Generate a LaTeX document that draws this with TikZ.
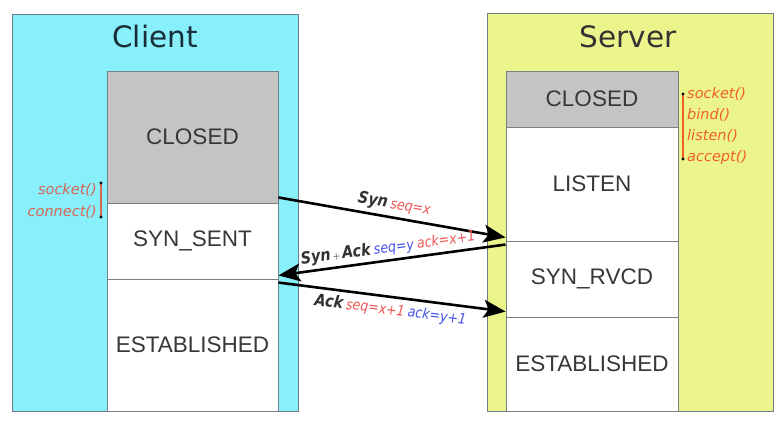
\documentclass[tikz,border=0pt]{standalone}
\usepackage{fontspec}
\setmainfont{DejaVu Sans}
\newfontfamily\statefont{Liberation Sans}
\newfontfamily\condfont[FakeStretch=0.87]{DejaVu Sans}
\usetikzlibrary{arrows.meta}
\definecolor{cyanpanel}{RGB}{136,240,250}
\definecolor{yellowpanel}{RGB}{236,245,140}
\definecolor{closedgray}{RGB}{196,196,196}
\definecolor{panelline}{RGB}{110,125,135}
\definecolor{boxline}{RGB}{120,128,132}
\definecolor{stategray}{RGB}{55,55,55}
\definecolor{titlecol}{RGB}{25,45,55}
\definecolor{lblred}{RGB}{240,85,85}
\definecolor{lblblue}{RGB}{70,80,235}
\definecolor{callcol}{RGB}{240,95,40}
\definecolor{callleft}{RGB}{215,100,85}
\definecolor{msgtext}{RGB}{50,50,50}
\definecolor{plusgray}{RGB}{120,120,120}
\newcommand\msgword{\condfont\fontsize{16.5}{16.5}\selectfont\bfseries\itshape\color{msgtext}}
\newcommand\seqtxt{\condfont\fontsize{14.5}{14.5}\selectfont\itshape}
\begin{document}
\begin{tikzpicture}[x=1pt,y=-1pt,
  panel/.style={draw=panelline, line width=0.9pt, inner sep=0pt, minimum width=286pt},
  paneltitle/.style={inner sep=0pt, text=titlecol, font=\fontsize{29.5}{29.5}\selectfont},
  statebox/.style={draw=boxline, line width=0.9pt, inner sep=0pt, fill=white,
    text=stategray, font=\statefont\fontsize{22.5}{22.5}\selectfont},
  cstate/.style={statebox, minimum width=171pt},
  sstate/.style={statebox, minimum width=172pt},
  calls/.style={inner sep=0pt, font=\fontsize{14.5}{21.3}\selectfont\itshape},
  callbar/.style={line width=1.4pt},
  msg/.style={draw=black, line width=2.6pt, -{Stealth[length=22pt,width=18pt,inset=5pt]}},
  msglabel/.style={sloped, inner sep=0pt}
]
\useasboundingbox (0,0) rectangle (782,423);
\fill[white] (0,0) rectangle (782,423);

% panels
\node[panel, fill=cyanpanel, minimum height=397pt] (cpanel) at (155,212.5) {};
\node[panel, fill=yellowpanel, minimum height=398pt] (spanel) at (630,212) {};
\node[paneltitle] (ctitle) at (155,37) {Client};
\node[paneltitle, text=black!80] (stitle) at (628,37) {Server};

% client states
\node[cstate, fill=closedgray, minimum height=132pt] (cclosed) at (192.5,137) {CLOSED};
\node[cstate, minimum height=76pt] (csynsent) at (192.5,241) {SYN\_SENT};
\node[cstate, minimum height=132pt] (cest) at (192.5,345) {ESTABLISHED};

% server states
\node[sstate, fill=closedgray, minimum height=56pt] (sclosed) at (592,99) {CLOSED};
\node[sstate, minimum height=114pt] (slisten) at (592,184) {LISTEN};
\node[sstate, minimum height=76pt] (ssynrvcd) at (592,279) {SYN\_RVCD};
\node[sstate, minimum height=94pt] (sest) at (592,364) {ESTABLISHED};

% system calls
\node[calls, anchor=east, align=right, text=callleft] (ccalls) at (97,201) {socket()\\connect()};
\coordinate (cb1) at (101,183);
\coordinate (cb2) at (101,217);
\draw[callbar, draw=callleft] (cb1) -- (cb2);
\fill[black] (cb1) circle (1.6) (cb2) circle (1.6);

\node[calls, anchor=west, align=left, text=callcol] (scalls) at (687,126) {socket()\\bind()\\listen()\\accept()};
\coordinate (sb1) at (683,94);
\coordinate (sb2) at (683,159);
\draw[callbar, draw=callcol] (sb1) -- (sb2);
\fill[black] (sb1) circle (1.6) (sb2) circle (1.6);

% messages
\draw[msg] ([yshift=6pt]cclosed.south east) --
  node[msglabel, pos=0.5, above=4pt] (synlbl) {{\msgword Syn} {\seqtxt\color{lblred}seq=x}}
  ([yshift=4pt]slisten.south west);
\draw[msg] ([yshift=-4pt]ssynrvcd.north west) --
  node[msglabel, pos=0.51, above=3pt] (synacklbl) {{\msgword Syn}{\fontsize{10}{10}\selectfont\color{plusgray}\,+\,}{\msgword Ack} {\seqtxt\color{lblblue}seq=y} {\seqtxt\color{lblred}ack=x+1}}
  ([yshift=4pt]csynsent.south east);
\draw[msg] ([yshift=-4pt]cest.north east) --
  node[msglabel, pos=0.5, below=4pt] (acklbl) {{\msgword Ack} {\seqtxt\color{lblred}seq=x+1} {\seqtxt\color{lblblue}ack=y+1}}
  ([yshift=5pt]sest.north west);
\end{tikzpicture}
\end{document}
